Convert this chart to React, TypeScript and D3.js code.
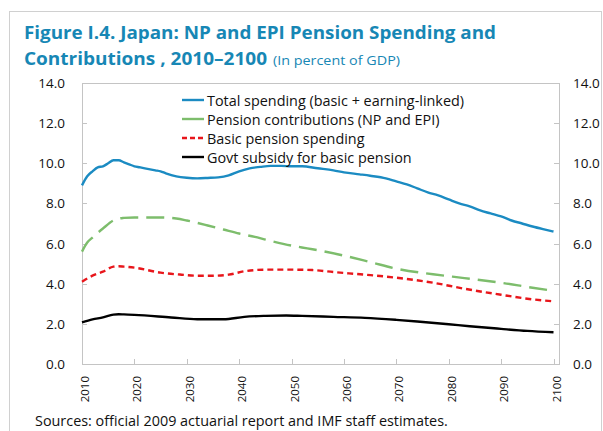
import React from "react";
import * as d3 from "d3";

const totalYears = [2010,2011,2012,2013,2014,2015,2016,2017,2018,2019,2020,2021,2022,2024,2025,2026,2028,2030,2032,2034,2036,2038,2040,2042,2044,2046,2048,2050,2052,2055,2058,2060,2063,2065,2068,2070,2072,2074,2076,2078,2080,2082,2084,2086,2088,2090,2092,2094,2096,2098,2100];
const totalSpending = [8.9,9.35,9.6,9.8,9.85,10.0,10.15,10.15,10.05,9.95,9.85,9.8,9.75,9.65,9.6,9.5,9.35,9.28,9.25,9.27,9.3,9.4,9.6,9.75,9.82,9.87,9.87,9.85,9.85,9.75,9.65,9.55,9.45,9.38,9.25,9.1,8.95,8.75,8.55,8.4,8.2,8.0,7.85,7.65,7.5,7.35,7.15,7.0,6.85,6.72,6.6];

const contribYears = [2010,2011,2012,2014,2016,2017,2018,2020,2025,2028,2030,2032,2034,2037,2040,2043,2045,2050,2053,2056,2060,2065,2070,2077,2083,2090,2096,2100];
const contributions = [5.6,6.05,6.3,6.75,7.15,7.25,7.28,7.3,7.3,7.25,7.15,7.03,6.9,6.7,6.5,6.33,6.2,5.9,5.76,5.62,5.4,5.08,4.75,4.47,4.28,4.05,3.8,3.65];

const basicYears = [2010,2012,2014,2016,2017,2018,2020,2025,2029,2032,2035,2038,2041,2045,2050,2054,2058,2064,2070,2077,2083,2090,2096,2100];
const basicSpending = [4.1,4.4,4.6,4.85,4.87,4.85,4.8,4.55,4.45,4.4,4.4,4.45,4.62,4.7,4.7,4.68,4.58,4.45,4.3,4.05,3.75,3.45,3.22,3.12];

const subsidyYears = [2010,2012,2014,2016,2017,2018,2020,2027,2032,2037,2041,2045,2049,2052,2058,2064,2070,2074,2080,2084,2090,2095,2100];
const govtSubsidy = [2.07,2.22,2.32,2.46,2.48,2.47,2.45,2.32,2.23,2.23,2.35,2.4,2.42,2.4,2.35,2.3,2.2,2.12,1.98,1.88,1.75,1.65,1.58];

const xTicks = [2010,2020,2030,2040,2050,2060,2070,2080,2090,2100];
const yTicks = [0,2,4,6,8,10,12,14];

const legendLabels = [
  "Total spending (basic + earning-linked)",
  "Pension contributions (NP and EPI)",
  "Basic pension spending",
  "Govt subsidy for basic pension",
];

const FONT = "'Open Sans', 'Noto Sans', sans-serif";
const TEAL = "#1787b5";
const AXIS = "#c4c4c4";

export default function App() {
  const W = 603, H = 431;
  const left = 82, right = 559, top = 83, bottom = 364;
  const x = d3.scaleLinear().domain([2010, 2100]).range([left, 553.5]);
  const y = d3.scaleLinear().domain([0, 14]).range([bottom, top]);

  const mk = (yrs: number[], vals: number[]) =>
    d3.line<number>().x((_, i) => x(yrs[i])).y((v) => y(v)).curve(d3.curveMonotoneX)(vals) || "";

  const series = [
    { d: mk(totalYears, totalSpending), color: "#1b8bc2", dash: undefined, legendDash: undefined },
    { d: mk(contribYears, contributions), color: "#7dbd6c", dash: "18,8", legendDash: undefined },
    { d: mk(basicYears, basicSpending), color: "#e8161b", dash: "6,4", legendDash: "5,3" },
    { d: mk(subsidyYears, govtSubsidy), color: "#000000", dash: undefined, legendDash: undefined },
  ];

  return (
    <svg width={W} height={H} style={{ position: "absolute", left: 0, top: 0, background: "#fff" }} fontFamily={FONT}>
      <rect x={9.5} y={11.5} width={592} height={440} fill="none" stroke="#d0d0d0" strokeWidth={1} />
      <text x={24} y={39} fill={TEAL} fontWeight={700} fontSize={17} textLength={472} lengthAdjust="spacingAndGlyphs">
        Figure I.4. Japan: NP and EPI Pension Spending and
      </text>
      <text x={24} y={65} fill={TEAL} fontWeight={700} fontSize={17} textLength={243} lengthAdjust="spacingAndGlyphs">
        Contributions , 2010–2100
      </text>
      <text x={273} y={65} fill={TEAL} fontSize={12.5} textLength={127} lengthAdjust="spacingAndGlyphs">
        (In percent of GDP)
      </text>

      {/* plot box */}
      <rect x={left + 0.5} y={top + 0.5} width={right - left} height={bottom - top} fill="none" stroke={AXIS} strokeWidth={1} />
      {yTicks.map((t) => (
        <g key={"y" + t}>
          <line x1={left} x2={left + 5} y1={Math.round(y(t)) + 0.5} y2={Math.round(y(t)) + 0.5} stroke={AXIS} />
          <line x1={right - 5} x2={right} y1={Math.round(y(t)) + 0.5} y2={Math.round(y(t)) + 0.5} stroke={AXIS} />
          <text x={65} y={y(t)} textAnchor="end" dominantBaseline="central" fontSize={13.5} fill="#111">{t.toFixed(1)}</text>
          <text x={573} y={y(t)} textAnchor="start" dominantBaseline="central" fontSize={13.5} fill="#111">{t.toFixed(1)}</text>
        </g>
      ))}
      {xTicks.map((t) => (
        <g key={"x" + t}>
          <line x1={Math.round(x(t)) + 0.5} x2={Math.round(x(t)) + 0.5} y1={bottom} y2={bottom - 5} stroke={AXIS} />
          <text transform={`translate(${x(t) + 2.5},${376}) rotate(-90)`} textAnchor="end" dominantBaseline="central" fontSize={11.5} fill="#111">{t}</text>
        </g>
      ))}

      {series.map((s, i) => (
        <path key={i} d={s.d} fill="none" stroke={s.color} strokeWidth={2.4} strokeDasharray={s.dash} strokeLinejoin="round" />
      ))}

      {legendLabels.map((lab, i) => {
        const cy = 100 + i * 19;
        const s = series[i];
        return (
          <g key={lab}>
            <line x1={182} x2={204} y1={cy} y2={cy} stroke={s.color} strokeWidth={2.4} strokeDasharray={s.legendDash} />
            <text x={207} y={cy} dominantBaseline="central" fontSize={14.4} fill="#111">{lab}</text>
          </g>
        );
      })}

      <text x={35} y={426} fontSize={14.4} fill="#111">Sources: official 2009 actuarial report and IMF staff estimates.</text>
    </svg>
  );
}
